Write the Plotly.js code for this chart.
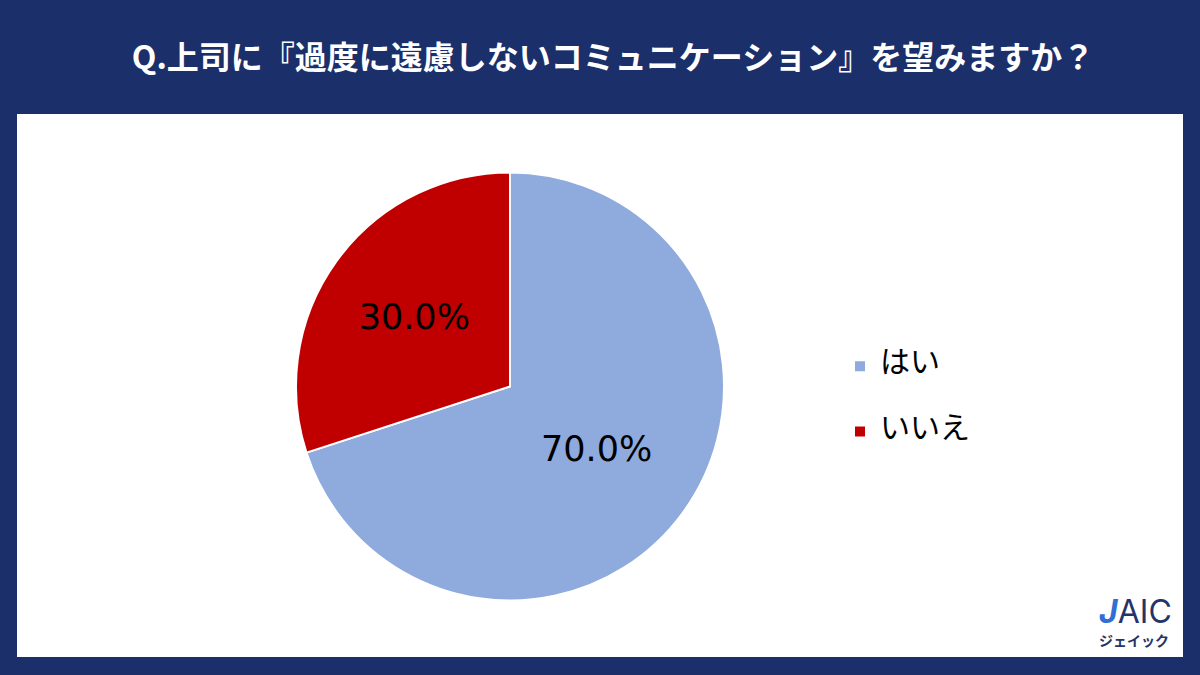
<!DOCTYPE html>
<html>
<head>
<meta charset="utf-8">
<script src="https://cdn.plot.ly/plotly-3.0.1.min.js"></script>
<style>html,body{margin:0;padding:0;background:#1b2f6a;}#chart{width:1200px;height:675px;}</style>
</head>
<body>
<div id="chart"></div>
<script>
const categories = ["はい", "いいえ"];
const values = [70.0, 30.0];
const sliceColors = ["#8faadc", "#c00000"];
const titleText = "Q.上司に『過度に遠慮しないコミュニケーション』を望みますか？";

const W = 1200, H = 675;
const cx = 510, cy = 386.5, r = 214;

// legend labels padded with empty lines so entries are spaced like the reference
const legendLabels = categories.map(c => "<br><span style=\"font-size:30px\">" + c + "</span><br>");

const trace = {
  type: "pie",
  labels: legendLabels,
  values: values,
  sort: false,
  direction: "clockwise",
  rotation: 0,
  marker: { colors: sliceColors, line: { color: "#ffffff", width: 2 } },
  texttemplate: "%{percent:.1%}",
  textposition: "inside",
  insidetextorientation: "horizontal",
  textfont: { family: "DejaVu Sans, Verdana, sans-serif", size: 35, color: "#000000" },
  hoverinfo: "percent",
  domain: { x: [(cx - r) / W, (cx + r) / W], y: [1 - (cy + r) / H, 1 - (cy - r) / H] }
};

const layout = {
  width: W, height: H,
  margin: { l: 0, r: 0, t: 0, b: 0 },
  paper_bgcolor: "#1b2f6a",
  plot_bgcolor: "#ffffff",
  title: {
    text: "<b>" + titleText + "</b>",
    font: { family: "Noto Sans CJK JP, sans-serif", size: 32, color: "#ffffff" },
    x: 613 / W, xanchor: "center", xref: "paper",
    y: 1 - 58 / H, yanchor: "middle", yref: "paper"
  },
  showlegend: true,
  legend: {
    x: 840 / W, xanchor: "left",
    y: 1 - 399 / H, yanchor: "middle",
    font: { family: "Noto Sans CJK JP, sans-serif", size: 16, color: "#000000" },
    bgcolor: "rgba(0,0,0,0)",
    itemclick: false
  },
  shapes: [
    { type: "rect", xref: "paper", yref: "paper", layer: "below",
      x0: 17 / W, x1: 1183 / W, y0: 1 - 657 / H, y1: 1 - 114 / H,
      fillcolor: "#ffffff", line: { width: 0 } }
  ],
  annotations: [
    { xref: "paper", yref: "paper", x: 1135 / W, y: 1 - 611 / H, xanchor: "center", yanchor: "middle",
      text: "<span style=\"color:#2f6fd6\"><i><b>J</b></i></span>AIC", showarrow: false,
      font: { family: "Inter, Roboto, sans-serif", size: 32, color: "#23346b" } },
    { xref: "paper", yref: "paper", x: 1134 / W, y: 1 - 640 / H, xanchor: "center", yanchor: "middle",
      text: "<b>ジェイック</b>", showarrow: false,
      font: { family: "Noto Sans CJK JP, sans-serif", size: 14, color: "#23346b" } }
  ]
};

Plotly.newPlot("chart", [trace], layout, { displayModeBar: false, staticPlot: true });
</script>
</body>
</html>
